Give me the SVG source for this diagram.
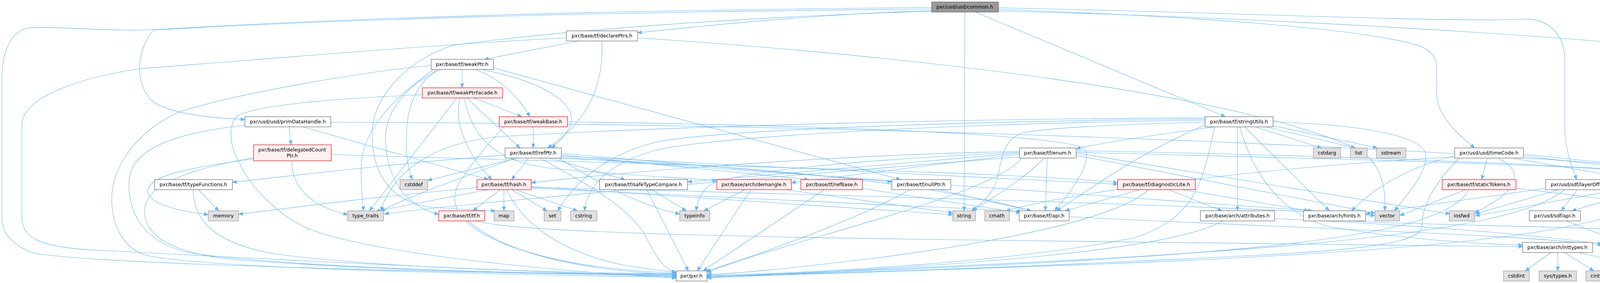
<svg xmlns="http://www.w3.org/2000/svg" width="4684" height="725" viewBox="0 0 4684 725">
<style>
.bg{fill:#ffffff}
#edges path{fill:none;stroke:#63b8ff;stroke-width:1.1;marker-end:url(#arr)}
.n rect{fill:#ffffff;stroke:#666666;stroke-width:1.2}
.r rect{fill:#fff0f0;stroke:#ff0000;stroke-width:1.2}
.g rect{fill:#e0e0e0;stroke:#999999;stroke-width:1.2}
.root rect{fill:#999999;stroke:#666666;stroke-width:1.2}
text{font-family:"DejaVu Sans","Liberation Sans",sans-serif;font-size:12.6px;fill:#000000;text-anchor:middle}
</style>
<defs>
<marker id="arr" markerUnits="userSpaceOnUse" markerWidth="12" markerHeight="9" refX="11" refY="4.5" orient="auto" viewBox="0 0 12 9">
<path d="M0,0 L11,4.5 L0,9 Z" fill="#63b8ff" stroke="#63b8ff" stroke-width="1"/>
</marker>
</defs>
<rect class="bg" x="0" y="0" width="4684" height="725"/>
<g id="edges">
<path d="M2385,19 C1600,26 900,45 393,76 C300,82 150,66 70,72 C30,80 5,130 5,200 L5,555 C5,595 25,625 85,648 C250,680 1300,700 1731,706"/>
<path d="M2385,23 C1600,30 900,48 393,77 C355,120 340,200 385,255 C430,295 560,303 627,306"/>
<path d="M2385,27 C2100,36 1800,66 1632,84"/>
<path d="M2385,29 C2000,40 1500,70 1160,116 C1050,150 960,240 953,330 C948,430 990,515 1100,530 C1180,538 1240,537 1268,541"/>
<path d="M2470,31 L2468,540"/>
<path d="M2497,31 L3137,299"/>
<path d="M2556,24 C3000,40 3500,70 3640,120 C3670,135 3678,150 3678,180 L3678,240 C3678,300 3740,350 3775,379"/>
<path d="M2556,20 C3200,33 3700,58 3900,49 C3965,46 4006,90 4006,153 L4006,324 C4006,385 4025,430 4036,460"/>
<path d="M2556,28 C3400,50 4300,110 4480,150 C4498,158 4504,172 4504,190 L4504,320 C4504,385 4560,430 4597,460"/>
<path d="M1450,97 C1100,115 700,150 357,176 C200,200 56,250 56,320 L56,555 C56,610 100,635 255,641 C600,660 1400,700 1731,708"/>
<path d="M1481,105 L1240,152"/>
<path d="M1541,105 C1545,200 1520,300 1402,379"/>
<path d="M1632,97 C2300,140 3200,240 3490,390 C3540,430 3548,490 3545,540"/>
<path d="M1104,168 C950,180 600,240 459,287 C360,330 286,420 286,509 C286,570 310,630 367,652 C500,690 1400,705 1731,710"/>
<path d="M1183,178 L1183,225"/>
<path d="M1216,178 C1280,200 1330,250 1356,299"/>
<path d="M1231,178 C1400,210 1480,270 1460,320 C1450,345 1430,365 1412,379"/>
<path d="M1130,178 C1050,210 985,280 987,360 C990,450 1030,525 1123,549"/>
<path d="M1120,178 C1060,220 1040,280 1040,360 C1040,420 1050,445 1055,460"/>
<path d="M1110,178 C1010,250 930,330 925,420 C922,480 930,520 930,540"/>
<path d="M1263,174 L2305,460"/>
<path d="M1081,243 C900,250 680,265 610,295 C580,320 590,380 612,416 C640,480 720,560 800,590 C1000,660 1500,700 1731,712"/>
<path d="M1170,251 L946,540"/>
<path d="M1178,251 C1160,320 1200,400 1259,460"/>
<path d="M1188,251 C1210,350 1260,410 1400,430 C1600,450 1750,455 1835,463"/>
<path d="M1195,251 L1331,379"/>
<path d="M1213,251 L1336,299"/>
<path d="M627,321 C450,340 330,380 330,470 C330,560 380,630 500,650 C800,690 1400,702 1731,704"/>
<path d="M740,325 L745,371"/>
<path d="M847,313 C2500,318 4200,400 4545,466"/>
<path d="M775,325 L1250,460"/>
<path d="M649,404 C500,430 370,470 370,540 C370,610 450,650 600,665 C1000,695 1400,702 1731,702"/>
<path d="M649,407 C480,430 380,450 378,490 C378,520 450,540 533,550"/>
<path d="M747,412 C745,480 800,530 890,550"/>
<path d="M848,396 C1800,425 2600,440 2861,468"/>
<path d="M1365,325 L1365,379"/>
<path d="M1453,312 C2000,320 2700,340 2775,380 C2800,410 2750,480 2700,540"/>
<path d="M1290,325 C1230,390 1190,440 1170,480 C1120,600 1400,690 1731,699"/>
<path d="M1293,397 C1000,420 750,450 595,467"/>
<path d="M1325,405 L1095,462"/>
<path d="M1318,405 C1200,450 1050,500 975,541"/>
<path d="M1353,405 L1310,460"/>
<path d="M1407,405 L1600,460"/>
<path d="M1437,393 L2283,466"/>
<path d="M1437,397 L2070,460"/>
<path d="M1437,400 L2861,472"/>
<path d="M1420,405 C1800,420 2300,450 2640,540"/>
<path d="M1437,403 L3360,540"/>
<path d="M1430,405 C1550,480 1650,530 1740,548"/>
<path d="M1382,405 C1480,460 1600,520 1650,600 C1680,660 1700,690 1731,698"/>
<path d="M1280,486 L1211,540"/>
<path d="M1290,486 L1290,540"/>
<path d="M1310,486 L1400,540"/>
<path d="M1320,486 L1478,540"/>
<path d="M1250,486 L962,541"/>
<path d="M1221,481 C1000,500 800,525 611,549"/>
<path d="M1297,486 C1340,580 1450,650 1600,680 C1660,690 1700,694 1731,697"/>
<path d="M1360,478 L2439,550"/>
<path d="M1360,482 L2615,541"/>
<path d="M1360,480 C2200,500 3200,530 3520,552"/>
<path d="M1198,566 C1260,620 1400,690 1731,703"/>
<path d="M1218,566 C1300,590 1700,605 2500,615 C3300,622 3700,628 3898,632"/>
<path d="M508,486 L560,540"/>
<path d="M495,486 C495,560 540,620 700,650 C1000,690 1500,700 1731,701"/>
<path d="M1668,486 L1757,540"/>
<path d="M1656,486 L1762,694"/>
<path d="M1907,486 L1802,540"/>
<path d="M1922,486 L1785,694"/>
<path d="M2012,486 L2439,545"/>
<path d="M2110,486 L1800,694"/>
<path d="M2208,483 L2612,545"/>
<path d="M2404,486 L2640,540"/>
<path d="M2329,486 C2200,560 1950,650 1808,695"/>
<path d="M2918,486 L2727,540"/>
<path d="M2941,486 C2880,540 2700,600 2250,660 C2000,690 1900,700 1810,703"/>
<path d="M2992,486 L3128,540"/>
<path d="M3029,486 L3350,540"/>
<path d="M2673,405 C2620,460 2550,500 2490,540"/>
<path d="M2681,405 L2676,540"/>
<path d="M2615,405 C2550,500 2000,620 1810,698"/>
<path d="M2610,395 L2026,468"/>
<path d="M2610,392 L1760,466"/>
<path d="M2610,390 C2200,410 1850,440 1810,480 C1790,500 1785,520 1782,540"/>
<path d="M2610,388 C2200,395 1700,430 1360,468"/>
<path d="M2755,398 L3520,546"/>
<path d="M2755,392 L3712,548"/>
<path d="M2755,390 C3500,410 4300,425 4395,465 C4430,490 4455,510 4467,534"/>
<path d="M2755,386 C3500,400 4300,430 4345,460 C4380,490 4370,600 4318,694"/>
<path d="M2610,402 C2000,450 1200,520 984,548"/>
<path d="M3213,325 L3383,379"/>
<path d="M3240,325 L3470,379"/>
<path d="M3259,322 L3526,379"/>
<path d="M3259,312 C3500,320 3650,350 3650,400 C3650,450 3600,500 3570,540"/>
<path d="M3186,325 L3403,540"/>
<path d="M3168,325 L3168,540"/>
<path d="M3174,325 C3200,420 3260,540 3400,580 C3600,615 3800,625 3898,628"/>
<path d="M3110,325 C3000,340 2850,360 2755,381"/>
<path d="M3085,320 C2900,400 2800,480 2705,540"/>
<path d="M3110,325 C3080,450 3070,560 2900,610 C2600,670 2100,700 1810,705"/>
<path d="M3085,313 C2900,318 2700,325 2620,340 C2570,355 2565,400 2555,450 C2545,500 2510,520 2488,540"/>
<path d="M3085,305 C2500,310 1900,330 1700,360 C1550,390 1470,470 1428,540"/>
<path d="M3085,308 C2500,315 1900,345 1700,380 C1560,410 1500,480 1497,540"/>
<path d="M3085,302 C2300,305 1600,330 1280,350 C1100,365 1000,450 975,541"/>
<path d="M3807,406 L3793,460"/>
<path d="M3835,406 C3890,430 3910,480 3775,545"/>
<path d="M3876,406 L4188,460"/>
<path d="M3900,395 L4545,462"/>
<path d="M3900,399 L4462,466"/>
<path d="M3724,399 C3600,430 3520,480 3460,540"/>
<path d="M3724,402 C3200,430 2700,500 2575,541"/>
<path d="M3735,406 C3660,480 3640,540 3640,580 C3640,620 3500,640 3200,655 C2600,685 2100,703 1810,707"/>
<path d="M3881,482 L4395,545"/>
<path d="M3752,486 L3584,552"/>
<path d="M3760,486 C3700,600 3300,660 1810,709"/>
<path d="M4038,486 L3997,540"/>
<path d="M3990,486 L3777,548"/>
<path d="M4005,486 C3850,620 3000,660 1810,709"/>
<path d="M3960,482 L3496,548"/>
<path d="M4210,486 L4024,540"/>
<path d="M4164,482 L3777,553"/>
<path d="M4245,486 C4150,650 3000,670 1810,711"/>
<path d="M4010,566 L4150,621"/>
<path d="M4611,486 C4611,560 4560,610 4269,632"/>
<path d="M2737,555 C3200,580 3900,600 4101,628"/>
<path d="M3263,560 C3600,575 3900,598 4101,625"/>
<path d="M3130,566 C3000,640 2500,680 1810,712"/>
<path d="M3450,566 C3700,580 4200,580 4260,600 C4300,620 4305,660 4306,694"/>
<path d="M3970,647 L3905,694"/>
<path d="M3988,647 L3988,694"/>
<path d="M4006,647 L4080,694"/>
<path d="M4040,647 L4255,694"/>
<path d="M4205,647 L4285,694"/>
<path d="M4462,574 L4330,694"/>
</g>
<g id="n_common" class="root"><rect x="2385" y="5" width="171" height="26"/><text x="2470" y="22">pxr/usd/usd/common.h</text></g>
<g id="n_declarePtrs" class="n"><rect x="1450" y="79" width="182" height="26"/><text x="1541" y="96">pxr/base/tf/declarePtrs.h</text></g>
<g id="n_weakPtr" class="n"><rect x="1104" y="152" width="159" height="26"/><text x="1183" y="169">pxr/base/tf/weakPtr.h</text></g>
<g id="n_weakPtrFacade" class="r"><rect x="1081" y="225" width="206" height="26"/><text x="1184" y="242">pxr/base/tf/weakPtrFacade.h</text></g>
<g id="n_primDataHandle" class="n"><rect x="627" y="299" width="220" height="26"/><text x="737" y="316">pxr/usd/usd/primDataHandle.h</text></g>
<g id="n_weakBase" class="r"><rect x="1278" y="299" width="175" height="26"/><text x="1365" y="316">pxr/base/tf/weakBase.h</text></g>
<g id="n_stringUtils" class="n"><rect x="3085" y="299" width="174" height="26"/><text x="3172" y="316">pxr/base/tf/stringUtils.h</text></g>
<g id="n_delegatedCountPtr" class="r"><rect x="649" y="371" width="199" height="41"/><text x="748" y="388">pxr/base/tf/delegatedCount</text><text x="748" y="403">Ptr.h</text></g>
<g id="n_refPtr" class="n"><rect x="1293" y="379" width="144" height="26"/><text x="1365" y="396">pxr/base/tf/refPtr.h</text></g>
<g id="n_enum" class="n"><rect x="2610" y="379" width="145" height="26"/><text x="2682" y="396">pxr/base/tf/enum.h</text></g>
<g id="n_usdTimeCode" class="n"><rect x="3724" y="379" width="176" height="26"/><text x="3812" y="396">pxr/usd/usd/timeCode.h</text></g>
<g id="n_cstdarg" class="g"><rect x="3362" y="379" width="70" height="26"/><text x="3397" y="396">cstdarg</text></g>
<g id="n_list" class="g"><rect x="3457" y="379" width="43" height="26"/><text x="3478" y="396">list</text></g>
<g id="n_sstream" class="g"><rect x="3524" y="379" width="75" height="26"/><text x="3561" y="396">sstream</text></g>
<g id="n_typeFunctions" class="n"><rect x="396" y="460" width="199" height="26"/><text x="495" y="477">pxr/base/tf/typeFunctions.h</text></g>
<g id="n_cstddef" class="g"><rect x="1024" y="460" width="71" height="26"/><text x="1059" y="477">cstddef</text></g>
<g id="n_hash" class="r"><rect x="1221" y="460" width="139" height="26"/><text x="1290" y="477">pxr/base/tf/hash.h</text></g>
<g id="n_safeTypeCompare" class="n"><rect x="1535" y="460" width="225" height="26"/><text x="1647" y="477">pxr/base/tf/safeTypeCompare.h</text></g>
<g id="n_demangle" class="r"><rect x="1835" y="460" width="191" height="26"/><text x="1930" y="477">pxr/base/arch/demangle.h</text></g>
<g id="n_refBase" class="r"><rect x="2050" y="460" width="158" height="26"/><text x="2129" y="477">pxr/base/tf/refBase.h</text></g>
<g id="n_nullPtr" class="n"><rect x="2283" y="460" width="151" height="26"/><text x="2358" y="477">pxr/base/tf/nullPtr.h</text></g>
<g id="n_diagnosticLite" class="r"><rect x="2861" y="460" width="199" height="26"/><text x="2960" y="477">pxr/base/tf/diagnosticLite.h</text></g>
<g id="n_staticTokens" class="r"><rect x="3692" y="460" width="189" height="26"/><text x="3786" y="477">pxr/base/tf/staticTokens.h</text></g>
<g id="n_layerOffset" class="n"><rect x="3957" y="460" width="182" height="26"/><text x="4048" y="477">pxr/usd/sdf/layerOffset.h</text></g>
<g id="n_sdfTimeCode" class="r"><rect x="4164" y="460" width="173" height="26"/><text x="4250" y="477">pxr/usd/sdf/timeCode.h</text></g>
<g id="n_limits" class="g"><rect x="4462" y="460" width="59" height="26"/><text x="4491" y="477">limits</text></g>
<g id="n_usdApi" class="n"><rect x="4545" y="460" width="133" height="26"/><text x="4611" y="477">pxr/usd/usd/api.h</text></g>
<g id="n_memory" class="g"><rect x="533" y="540" width="78" height="26"/><text x="572" y="557">memory</text></g>
<g id="n_type_traits" class="g"><rect x="890" y="540" width="92" height="26"/><text x="936" y="557">type_traits</text></g>
<g id="n_tf" class="r"><rect x="1123" y="540" width="118" height="26"/><text x="1182" y="557">pxr/base/tf/tf.h</text></g>
<g id="n_map" class="g"><rect x="1265" y="540" width="51" height="26"/><text x="1290" y="557">map</text></g>
<g id="n_set" class="g"><rect x="1393" y="540" width="43" height="26"/><text x="1414" y="557">set</text></g>
<g id="n_cstring" class="g"><rect x="1461" y="540" width="67" height="26"/><text x="1494" y="557">cstring</text></g>
<g id="n_typeinfo" class="g"><rect x="1740" y="540" width="77" height="26"/><text x="1778" y="557">typeinfo</text></g>
<g id="n_string" class="g"><rect x="2439" y="540" width="58" height="26"/><text x="2468" y="557">string</text></g>
<g id="n_cmath" class="g"><rect x="2521" y="540" width="63" height="26"/><text x="2552" y="557">cmath</text></g>
<g id="n_tfApi" class="n"><rect x="2609" y="540" width="128" height="26"/><text x="2673" y="557">pxr/base/tf/api.h</text></g>
<g id="n_attributes" class="n"><rect x="3073" y="540" width="190" height="26"/><text x="3168" y="557">pxr/base/arch/attributes.h</text></g>
<g id="n_hints" class="n"><rect x="3337" y="540" width="159" height="26"/><text x="3416" y="557">pxr/base/arch/hints.h</text></g>
<g id="n_vector" class="g"><rect x="3520" y="540" width="63" height="26"/><text x="3551" y="557">vector</text></g>
<g id="n_iosfwd" class="g"><rect x="3710" y="540" width="65" height="26"/><text x="3742" y="557">iosfwd</text></g>
<g id="n_sdfApi" class="n"><rect x="3915" y="540" width="131" height="26"/><text x="3980" y="557">pxr/usd/sdf/api.h</text></g>
<g id="n_preprocessorUtilsLite" class="n"><rect x="4395" y="534" width="180" height="40"/><text x="4485" y="550">pxr/base/tf/preprocessor</text><text x="4485" y="565">UtilsLite.h</text></g>
<g id="n_inttypes" class="n"><rect x="3898" y="621" width="179" height="26"/><text x="3987" y="638">pxr/base/arch/inttypes.h</text></g>
<g id="n_export" class="n"><rect x="4101" y="621" width="168" height="26"/><text x="4185" y="638">pxr/base/arch/export.h</text></g>
<g id="n_pxr" class="n"><rect x="1731" y="694" width="79" height="26"/><text x="1770" y="711">pxr/pxr.h</text></g>
<g id="n_cstdint" class="g"><rect x="3849" y="694" width="66" height="26"/><text x="3882" y="711">cstdint</text></g>
<g id="n_systypes" class="g"><rect x="3940" y="694" width="96" height="26"/><text x="3988" y="711">sys/types.h</text></g>
<g id="n_cinttypes" class="g"><rect x="4060" y="694" width="82" height="26"/><text x="4101" y="711">cinttypes</text></g>
<g id="n_defines" class="n"><rect x="4220" y="694" width="173" height="26"/><text x="4306" y="711">pxr/base/arch/defines.h</text></g>
</svg>
